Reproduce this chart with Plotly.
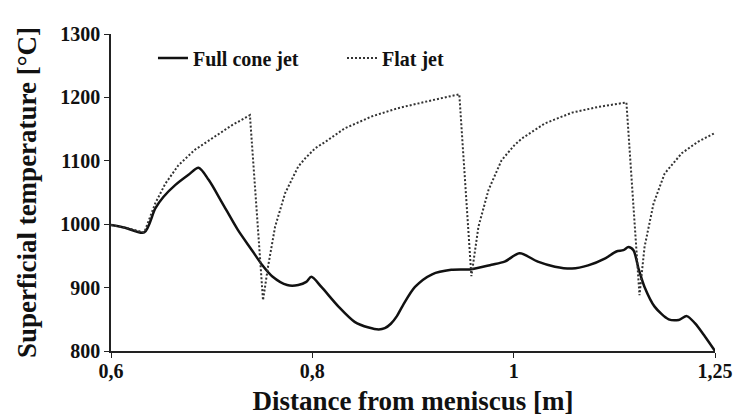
import plotly.graph_objects as go

# Full cone jet (solid)
cone_x = [0.600, 0.614, 0.633, 0.644, 0.652, 0.664, 0.677, 0.687, 0.697, 0.710,
          0.726, 0.740, 0.750, 0.760, 0.775, 0.786, 0.794, 0.799, 0.809, 0.826,
          0.842, 0.856, 0.866, 0.872, 0.878, 0.884, 0.890, 0.902, 0.919, 0.938,
          0.958, 0.978, 0.991, 1.006, 1.024, 1.041, 1.058, 1.074, 1.091, 1.102,
          1.109, 1.114, 1.119, 1.124, 1.130, 1.140, 1.154, 1.164, 1.172, 1.180,
          1.190, 1.200]
cone_t = [998.7, 994.5, 987, 1025, 1043, 1062, 1078, 1089, 1070, 1035,
          991, 959, 936, 918, 904, 904, 909, 917, 901, 870,
          846, 837, 834, 836, 843, 855, 872, 901, 921, 928,
          929, 936, 941, 954, 941, 933, 930, 935, 946, 957,
          959, 964, 959, 930, 901, 870, 850, 849, 855, 844,
          823, 800]

# Flat jet (dotted)
flat_x = [0.600, 0.614, 0.633, 0.644, 0.654, 0.667, 0.683, 0.703, 0.720, 0.738,
          0.751, 0.756, 0.763, 0.773, 0.786, 0.793, 0.803, 0.813, 0.832, 0.859,
          0.885, 0.912, 0.932, 0.946, 0.958, 0.965, 0.975, 0.988, 1.001, 1.008,
          1.031, 1.058, 1.084, 1.112, 1.125, 1.130, 1.139, 1.150, 1.167, 1.183,
          1.200]
flat_t = [998.7, 994.5, 987, 1033, 1064, 1093, 1117, 1138, 1156, 1172,
          880, 933, 996, 1049, 1091, 1104, 1120, 1130, 1151, 1170,
          1183, 1193, 1200, 1205, 918, 996, 1054, 1101, 1125, 1135,
          1159, 1176, 1185, 1192, 888, 964, 1033, 1080, 1112, 1130,
          1144]

x_tickvals = [0.6, 0.8, 1.0, 1.2]
x_ticktext = ["0,6", "0,8", "1", "1,25"]
y_tickvals = [800, 900, 1000, 1100, 1200, 1300]
y_ticktext = ["800", "900", "1000", "1100", "1200", "1300"]

FONT = "Liberation Serif, Times New Roman, serif"

fig = go.Figure()
fig.add_trace(go.Scatter(
    x=cone_x, y=cone_t, mode="lines", name="Full cone jet",
    line=dict(color="#111111", width=2.5, shape="spline", smoothing=0.8),
    legend="legend", showlegend=True,
))
fig.add_trace(go.Scatter(
    x=flat_x, y=flat_t, mode="lines", name="Flat jet",
    line=dict(color="#333333", width=2, dash="2px,2px"),
    legend="legend2", showlegend=True,
))

legend_common = dict(
    orientation="h", yanchor="middle", xanchor="left",
    bgcolor="rgba(0,0,0,0)", borderwidth=0, visible=True,
    font=dict(family=FONT, size=20, color="#111111", weight="bold"),
)

fig.update_layout(
    width=733, height=416,
    margin=dict(l=111, r=18, t=34, b=65),
    paper_bgcolor="white", plot_bgcolor="white",
    font=dict(family=FONT, color="#111111"),
    showlegend=True,
    legend=dict(x=0.0695, y=0.924, **legend_common),
    legend2=dict(x=0.3825, y=0.924, **legend_common),
    xaxis=dict(
        range=[0.6, 1.2], tickvals=x_tickvals, ticktext=x_ticktext,
        showgrid=False, zeroline=False, showline=True,
        linecolor="#222222", linewidth=1.5,
        ticks="outside", ticklen=5, tickcolor="#222222", tickwidth=1.2,
        ticklabeloverflow="allow", ticklabelstandoff=-4,
        tickfont=dict(family=FONT, size=20, color="#111111", weight="bold"),
        title=dict(text="Distance from meniscus [m]", standoff=15,
                   font=dict(family=FONT, size=27, color="#111111", weight="bold")),
        automargin=False,
    ),
    yaxis=dict(
        range=[800, 1300], tickvals=y_tickvals, ticktext=y_ticktext,
        showgrid=False, zeroline=False, showline=True,
        linecolor="#222222", linewidth=1.5,
        ticks="outside", ticklen=5, tickcolor="#222222", tickwidth=1.2,
        tickfont=dict(family=FONT, size=20, color="#111111", weight="bold"),
        title=dict(text="Superficial temperature [°C]", standoff=16,
                   font=dict(family=FONT, size=27, color="#111111", weight="bold")),
        automargin=False,
    ),
)

fig.write_html("out.html")
